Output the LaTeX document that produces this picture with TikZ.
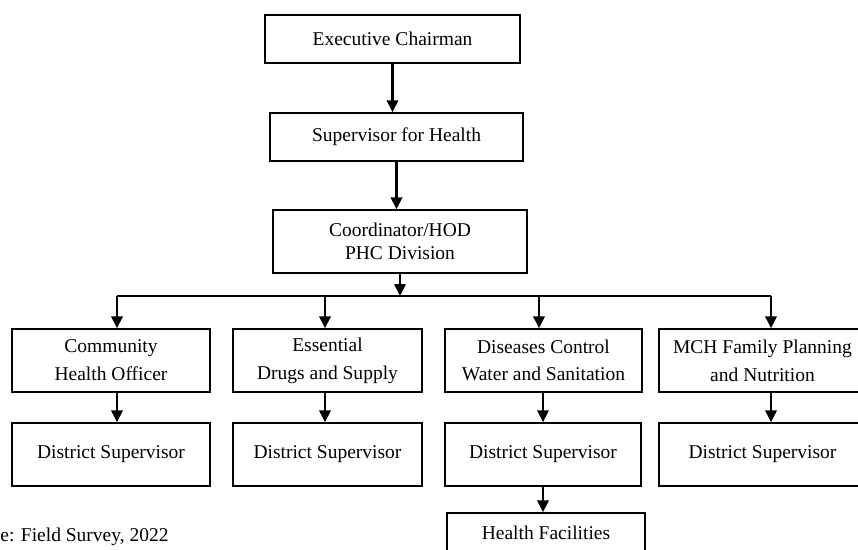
\documentclass[tikz,border=0pt]{standalone}
\usepackage{fontspec}
\setmainfont{Liberation Serif}
\usetikzlibrary{arrows.meta}

\begin{document}
\begin{tikzpicture}[
          x=0.02cm, y=-0.02cm,
          box/.style={draw, line width=0.85pt, align=center,
                      minimum height=1.26cm, inner sep=1pt,
                      font=\fontsize{11.1}{15.8}\selectfont},
          arr/.style={line width=1.15pt,
                      -{Triangle[width=0.23cm,length=0.24cm]}}
        ]
        \useasboundingbox (0,0) rectangle (858,550);
        \clip (0,0) rectangle (858,550);

        % Top of the chain
        \node[box, minimum width=5.1cm, minimum height=0.96cm] (exec) at (392.5,39) {Executive Chairman};
        \node[box, minimum width=5.06cm, minimum height=0.96cm] (sup) at (396.5,137) {Supervisor for Health};
        \node[box, minimum width=5.08cm, font=\fontsize{11.1}{13.3}\selectfont] (coord) at (400,241.5) {Coordinator/HOD\\PHC Division};

        % Units
        \node[box, minimum width=3.96cm] (cho) at (111,360.5) {Community\\Health Officer};
        \node[box, minimum width=3.78cm] (eds) at (327.5,360.5) {Essential\\Drugs and Supply};
        \node[box, minimum width=3.94cm] (dcw) at (543.5,360.5) {Diseases Control\\Water and Sanitation};
        \node[box, minimum width=4.14cm] (mch) at (762.5,360.5) {MCH Family Planning\\and Nutrition};

        % District level
        \node[box, minimum width=3.96cm] (ds1) at (111,454.5) {District Supervisor};
        \node[box, minimum width=3.78cm] (ds2) at (327.5,454.5) {District Supervisor};
        \node[box, minimum width=3.92cm] (ds3) at (543,454.5) {District Supervisor};
        \node[box, minimum width=4.14cm] (ds4) at (762.5,454.5) {District Supervisor};
        \node[box, minimum width=3.96cm, minimum height=0.8cm] (hf) at (546,533) {Health Facilities};

        % Note
        \node[font=\fontsize{11.1}{15.8}\selectfont, anchor=west, inner sep=0pt] (src) at (0,537) {e: Field Survey, 2022};

        % Bus
        \coordinate (b1) at (117,296);
        \coordinate (b2) at (325,296);
        \coordinate (b3) at (539,296);
        \coordinate (b4) at (771,296);
        \coordinate (b5) at (543,296);

        % Connectors
        \draw[arr] (exec.south) -- (exec.south |- sup.north);
        \draw[arr] (sup.south) -- (sup.south |- coord.north);
        \draw[arr] (coord.south) -- (coord.south |- b1);
        \draw[line width=1.15pt] (b1) -- (b4);
        \foreach \b/\n in {b1/cho, b2/eds, b3/dcw, b4/mch}
          \draw[arr] (\b) -- (\b |- \n.north);
        \foreach \b/\u/\d in {b1/cho/ds1, b2/eds/ds2, b5/dcw/ds3, b4/mch/ds4}
          \draw[arr] (\b |- \u.south) -- (\b |- \d.north);
        \draw[arr] (b5 |- ds3.south) -- (b5 |- hf.north);
      \end{tikzpicture}
\end{document}
